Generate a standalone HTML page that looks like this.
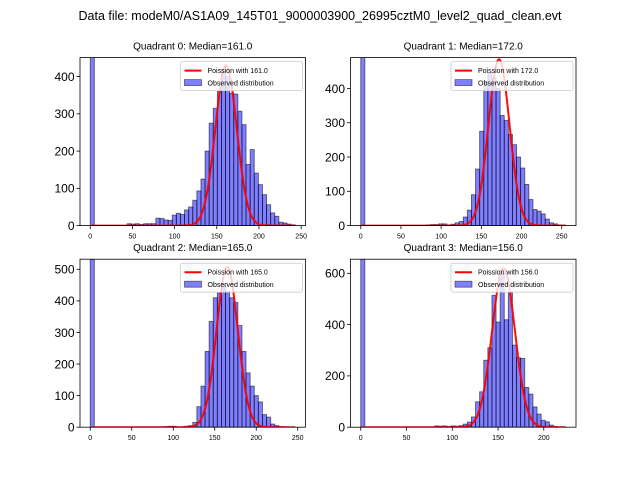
<!DOCTYPE html>
<html><head><meta charset="utf-8"><style>
body{margin:0;background:#fff;}
svg{display:block;font-family:"Liberation Sans","DejaVu Sans",sans-serif;}
</style></head><body>
<svg id="fig" width="640" height="480" viewBox="0 0 640 480">
<rect width="640" height="480" fill="#fff"/>
<text x="320" y="20" font-size="12.5" text-anchor="middle">Data file: modeM0/AS1A09_145T01_9000003900_26995cztM0_level2_quad_clean.evt</text>
</svg>
<script>
// Quadrant names and medians (Poisson lambda)
const quadNames = ["Quadrant 0", "Quadrant 1", "Quadrant 2", "Quadrant 3"];
const medians = [161.0, 172.0, 165.0, 156.0];
// Maximum counts value (histogram range 0..max, 50 bins)
const maxValues = [243, 255, 247, 224];
// y-axis upper limits
const yMaxes = [451, 490, 532, 655];
// Poisson curve peak heights
const curvePeaks = [430, 485, 507, 620];
// y tick values
const yTicks0 = [0, 100, 200, 300, 400];
const yTicks1 = [0, 100, 200, 300, 400];
const yTicks2 = [0, 100, 200, 300, 400, 500];
const yTicks3 = [0, 200, 400, 600];
// x tick values
const xTicks0 = [0, 50, 100, 150, 200, 250];
const xTicks1 = [0, 50, 100, 150, 200, 250];
const xTicks2 = [0, 50, 100, 150, 200, 250];
const xTicks3 = [0, 50, 100, 150, 200];
// histogram counts per bin (50 bins)
const counts0 = [1000,0,0,0,0,0,0,0,0,5,4,5,3,5,5,5,20,19,15,14,28,33,30,42,50,68,93,125,200,275,315,360,420,400,355,353,307,271,164,204,141,110,83,56,34,25,9,7,4,2];
const counts1 = [1000,0,0,0,0,0,0,0,0,0,0,0,0,0,0,0,2,3,3,5,5,2,4,8,12,25,45,90,165,275,420,445,430,400,321,307,266,236,200,168,120,76,47,42,34,19,8,5,2,1];
const counts2 = [1000,0,0,0,0,0,0,0,0,0,0,0,0,0,0,0,0,0,2,3,3,0,0,3,5,15,65,130,240,335,410,425,450,430,410,395,322,240,172,130,100,80,40,32,10,5,2,1,0,0];
const counts3 = [1000,0,0,0,0,0,0,0,0,0,0,0,0,0,0,0,0,0,5,4,5,3,5,4,6,12,20,40,99,138,261,310,514,410,600,419,525,320,271,268,155,129,79,51,27,21,8,3,1,0];
const allCounts = [counts0, counts1, counts2, counts3];
const allYTicks = [yTicks0, yTicks1, yTicks2, yTicks3];
const allXTicks = [xTicks0, xTicks1, xTicks2, xTicks3];

const NS = "http://www.w3.org/2000/svg";
const svg = document.getElementById("fig");
function mk(tag, attrs, parent){
  const e = document.createElementNS(NS, tag);
  for (const k in attrs) e.setAttribute(k, attrs[k]);
  (parent||svg).appendChild(e);
  return e;
}
const frames = [[80,57.6],[350.5,57.6],[80,259.2],[350.5,259.2]];
const W = 225.5, H = 168;

for (let q = 0; q < 4; q++) {
  const [L, T] = frames[q];
  const M = maxValues[q];
  const x0 = -0.05*M, x1 = 1.05*M;
  const xs = v => L + (v - x0)/(x1 - x0)*W;
  const ys = c => T + H - c/yMaxes[q]*H;
  const g = mk("g", {});
  
  
  const cp = mk("clipPath", {id: "cp"+q}, g);
  mk("rect", {x: L, y: T, width: W, height: H}, cp);
  const plot = mk("g", {"clip-path": "url(#cp"+q+")"}, g);
  const bw = M/50;
  const counts = allCounts[q];
  for (let i = 0; i < counts.length; i++) {
    if (counts[i] <= 0) continue;
    const r = mk("rect", {x: xs(i*bw), y: ys(counts[i]), width: xs(bw)-xs(0), height: ys(0)-ys(counts[i]),
      fill: "rgba(0,0,255,0.5)", stroke: "rgba(0,0,0,0.55)", "stroke-width": 0.9}, plot);
    
    
  }
  // Poisson (normal approx) curve
  const lam = medians[q], sd = Math.sqrt(lam);
  let d = "";
  for (let v = 0; v <= M; v += 0.5) {
    const c = curvePeaks[q]*Math.exp(-0.5*((v-lam)/sd)**2);
    d += (d ? "L" : "M") + xs(v).toFixed(2) + "," + ys(c).toFixed(2);
  }
  const pl = mk("path", {d: d, fill: "none", stroke: "#ff0000", "stroke-width": 2, "stroke-opacity": 0.95}, plot);
  
  
  // frame
  const fr = mk("rect", {x: L, y: T, width: W, height: H, fill: "none", stroke: "#000", "stroke-width": 0.8}, g);
  
  
  // y ticks
  for (const t of allYTicks[q]) {
    const y = ys(t);
    mk("line", {x1: L-3.5, x2: L, y1: y, y2: y, stroke: "#000", "stroke-width": 0.8}, g);
    const tx = mk("text", {x: L-5.5, y: y+4.3, "font-size": 12, "text-anchor": "end"}, g);
    tx.textContent = t;
    
    
  }
  // x ticks
  for (const t of allXTicks[q]) {
    const x = xs(t);
    mk("line", {x1: x, x2: x, y1: T+H, y2: T+H+3.5, stroke: "#000", "stroke-width": 0.8}, g);
    const tx = mk("text", {x: x, y: T+H+13, "font-size": 7, "text-anchor": "middle"}, g);
    tx.textContent = t;
    
    
  }
  // subplot title
  const st = mk("text", {x: L+W/2, y: T-8, "font-size": 10, "text-anchor": "middle"}, g);
  st.textContent = quadNames[q] + ": Median=" + medians[q].toFixed(1);
  
  
  // legend
  const lg = mk("g", {}, g);
  
  
  const lx = L+W-125, ly = T+4;
  mk("rect", {x: lx, y: ly, width: 122, height: 29, fill: "rgba(255,255,255,0.8)", stroke: "#ccc", "stroke-width": 0.8, rx: 2}, lg);
  mk("line", {x1: lx+4, x2: lx+21, y1: ly+9, y2: ly+9, stroke: "#ff0000", "stroke-width": 2}, lg);
  const t1 = mk("text", {x: lx+27, y: ly+11.5, "font-size": 7}, lg);
  t1.textContent = "Poission with " + medians[q].toFixed(1);
  
  
  mk("rect", {x: lx+4, y: ly+18, width: 17, height: 6, fill: "rgba(0,0,255,0.5)", stroke: "rgba(0,0,0,0.55)", "stroke-width": 0.8}, lg);
  const t2 = mk("text", {x: lx+27, y: ly+24, "font-size": 7}, lg);
  t2.textContent = "Observed distribution";
  
  
}
</script>
</body></html>
